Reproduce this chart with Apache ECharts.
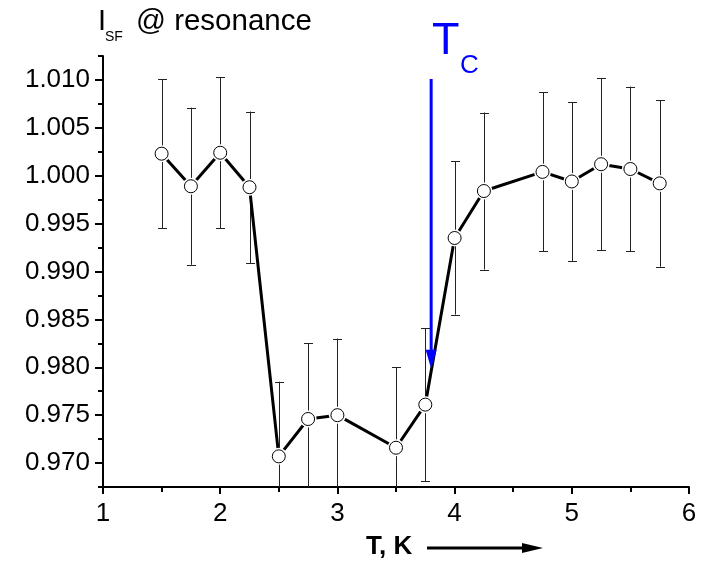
<!DOCTYPE html>
<html>
<head>
<meta charset="utf-8">
<script src="https://cdn.jsdelivr.net/npm/echarts@6/dist/echarts.min.js"></script>
<style>
html,body{margin:0;padding:0;background:#fff;}
#c{width:707px;height:561px;}
</style>
</head>
<body>
<div id="c"></div>
<script>
// ---- data ----
var temps = [1.5, 1.75, 2.0, 2.25, 2.5, 2.75, 3.0, 3.5, 3.75, 4.0, 4.25, 4.75, 5.0, 5.25, 5.5, 5.75];
var intensity = [1.0023, 0.9989, 1.0024, 0.9988, 0.9707, 0.9746, 0.9750, 0.9716, 0.9761, 0.9935, 0.9984, 1.0004, 0.9994, 1.0012, 1.0007, 0.9992];
var errors = [0.0078, 0.0082, 0.0079, 0.0079, 0.0078, 0.0079, 0.0080, 0.0084, 0.0080, 0.0080, 0.0082, 0.0083, 0.0083, 0.0090, 0.0086, 0.0087];
var yMajorTicks = [0.970, 0.975, 0.980, 0.985, 0.990, 0.995, 1.000, 1.005, 1.010];
var yMinorTicks = [0.9675, 0.9725, 0.9775, 0.9825, 0.9875, 0.9925, 0.9975, 1.0025, 1.0075, 1.0125];
var xTickLabels = ['1', '2', '3', '4', '5', '6'];
var TC = 3.8;               // transition temperature marked by the arrow
var arrowTop = 1.0101;
var arrowTip = 0.97985;

var Y_MIN = 0.9675, Y_MAX = 1.0125;
var FONT = 'Arial, "Liberation Sans", sans-serif';

var errData = temps.map(function (t, i) { return [t, intensity[i] - errors[i], intensity[i] + errors[i]]; });
var pts = temps.map(function (t, i) { return [t, intensity[i]]; });

var chart = echarts.init(document.getElementById('c'), null, {renderer: 'canvas'});
chart.setOption({
  animation: false,
  backgroundColor: '#fff',
  grid: {left: 103, right: 18, top: 56, bottom: 74, containLabel: false},
  xAxis: [{
    type: 'value', min: 1, max: 6, interval: 1,
    axisLine: {show: true, onZero: false, lineStyle: {color: '#000', width: 2}},
    axisTick: {show: true, inside: false, length: 7, lineStyle: {color: '#000', width: 2}},
    minorTick: {show: true, splitNumber: 2, length: 5, lineStyle: {color: '#000', width: 2}},
    axisLabel: {margin: 14, color: '#000', fontSize: 26, fontFamily: FONT,
      formatter: function (v) { var k = Math.round(v) - 1; return xTickLabels[k] !== undefined ? xTickLabels[k] : ''; }},
    splitLine: {show: false}
  }],
  yAxis: [{
    type: 'value', min: Y_MIN, max: Y_MAX, position: 'left', offset: 0,
    axisLine: {show: true, onZero: false, lineStyle: {color: '#000', width: 2}},
    axisTick: {show: true, inside: false, length: 8, customValues: yMajorTicks, lineStyle: {color: '#000', width: 2}},
    axisLabel: {margin: 13, color: '#000', fontSize: 26, fontFamily: FONT, customValues: yMajorTicks,
      formatter: function (v) { return v.toFixed(3); }},
    splitLine: {show: false}
  }, {
    type: 'value', min: Y_MIN, max: Y_MAX, position: 'left', offset: 0,
    axisLine: {show: false},
    axisTick: {show: true, inside: false, length: 5, customValues: yMinorTicks, lineStyle: {color: '#000', width: 2}},
    axisLabel: {show: false},
    splitLine: {show: false}
  }],
  series: [{
    type: 'custom',
    z: 1,
    data: errData,
    encode: {x: 0, y: [1, 2]},
    renderItem: function (params, api) {
      var x = api.value(0), lo = api.value(1), hi = api.value(2);
      var loC = Math.max(lo, Y_MIN), hiC = Math.min(hi, Y_MAX);
      var pLo = api.coord([x, loC]), pHi = api.coord([x, hiC]);
      var px = Math.round(pLo[0]) + 0.5;
      var hw = 4.5;
      var st = {stroke: '#222', lineWidth: 1};
      var ch = [{type: 'line', shape: {x1: px, y1: pLo[1], x2: px, y2: pHi[1]}, style: st}];
      if (hi <= Y_MAX) ch.push({type: 'line', shape: {x1: px - hw, y1: Math.round(pHi[1]) + 0.5, x2: px + hw, y2: Math.round(pHi[1]) + 0.5}, style: st});
      if (lo >= Y_MIN) ch.push({type: 'line', shape: {x1: px - hw, y1: Math.round(pLo[1]) + 0.5, x2: px + hw, y2: Math.round(pLo[1]) + 0.5}, style: st});
      return {type: 'group', children: ch};
    },
    silent: true
  }, {
    type: 'line',
    z: 2,
    data: pts,
    symbol: 'none',
    lineStyle: {color: '#000', width: 3},
    silent: true
  }, {
    type: 'scatter',
    z: 3,
    data: pts,
    symbol: 'circle',
    symbolSize: 17,
    itemStyle: {color: '#fff', opacity: 1},
    silent: true
  }, {
    type: 'scatter',
    z: 4,
    data: pts,
    symbol: 'circle',
    symbolSize: 13,
    itemStyle: {color: '#fff', borderColor: '#000', borderWidth: 1, opacity: 1},
    silent: true
  }, {
    type: 'custom',
    z: 5,
    data: [[TC, arrowTop, arrowTip]],
    encode: {x: 0, y: [1, 2]},
    silent: true,
    renderItem: function (params, api) {
      var pTop = api.coord([api.value(0), api.value(1)]);
      var pTip = api.coord([api.value(0), api.value(2)]);
      var headH = 19, headW = 11;
      var baseY = pTip[1] - headH;
      return {type: 'group', children: [
        {type: 'line', shape: {x1: pTop[0], y1: pTop[1], x2: pTop[0], y2: baseY + 2}, style: {stroke: '#0000ff', lineWidth: 3}},
        {type: 'polygon', shape: {points: [[pTip[0] - headW / 2, baseY], [pTip[0] + headW / 2, baseY], [pTip[0], pTip[1]]]}, style: {fill: '#0000ff'}}
      ]};
    }
  }],
  graphic: [
    {type: 'text', left: 98, top: 7, style: {text: 'I', font: '29px ' + FONT, fill: '#000'}},
    {type: 'text', left: 105, top: 30, style: {text: 'SF', font: '14px ' + FONT, fill: '#000'}},
    {type: 'text', left: 136, top: 7, style: {text: '@ resonance', font: '29.5px ' + FONT, fill: '#000'}},
    {type: 'text', left: 432, top: 19, style: {text: 'T', font: '45px ' + FONT, fill: '#0000ff'}},
    {type: 'text', left: 460, top: 53, style: {text: 'C', font: '26px ' + FONT, fill: '#0000ff'}},
    {type: 'text', left: 366, top: 534, style: {text: 'T, K', font: 'bold 26px ' + FONT, fill: '#000'}},
    {type: 'line', shape: {x1: 427, y1: 548, x2: 528, y2: 548}, style: {stroke: '#000', lineWidth: 3}},
    {type: 'polygon', shape: {points: [[522, 543], [543, 548], [522, 553]]}, style: {fill: '#000'}}
  ]
});
</script>
</body>
</html>
